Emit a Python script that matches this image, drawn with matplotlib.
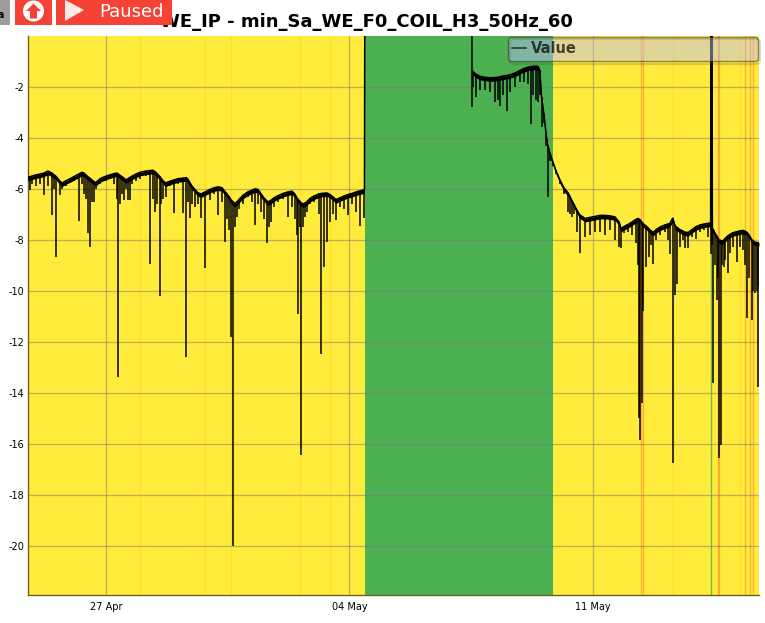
#!/usr/bin/python3
from datetime import datetime

import matplotlib
matplotlib.use('Agg')
import matplotlib.dates as mdates
import matplotlib.pyplot as plt
from matplotlib.patches import Circle, FancyBboxPatch, Polygon, Rectangle

TITLE = 'WE_IP - min_Sa_WE_F0_COIL_H3_50Hz_60'
START = datetime(2018, 4, 27)  # year is not shown on the chart

y_ticks = [-2, -4, -6, -8, -10, -12, -14, -16, -18, -20]
x_ticks = [datetime(2018, 4, 27), datetime(2018, 5, 4), datetime(2018, 5, 11)]

# all times are days after 27 Apr
# first stretch, up to where the signal leaves the top of the chart
days_a = [-2.24, -2.18, -2.13, -2.01, -1.90, -1.78, -1.67, -1.55, -1.49, -1.44,
          -1.32, -1.26, -1.15, -1.03, -0.92, -0.78, -0.69, -0.63, -0.57, -0.52,
          -0.46, -0.40, -0.34, -0.29, -0.17, 0.00, 0.11, 0.23, 0.32, 0.36,
          0.40, 0.46, 0.52, 0.57, 0.63, 0.69, 0.75, 0.86, 0.98, 1.15,
          1.28, 1.35, 1.41, 1.47, 1.54, 1.58, 1.64, 1.72, 1.84, 1.95,
          2.07, 2.21, 2.31, 2.36, 2.41, 2.47, 2.56, 2.64, 2.73, 2.85,
          2.99, 3.10, 3.22, 3.33, 3.42, 3.48, 3.54, 3.59, 3.65, 3.71,
          3.77, 3.82, 3.94, 4.08, 4.20, 4.28, 4.37, 4.46, 4.54, 4.63,
          4.69, 4.74, 4.83, 4.94, 5.09, 5.23, 5.35, 5.43, 5.49, 5.53,
          5.58, 5.62, 5.66, 5.72, 5.78, 5.86, 5.98, 6.12, 6.18, 6.27,
          6.35, 6.44, 6.53, 6.61, 6.73, 6.84, 6.96, 7.07, 7.19, 7.30,
          7.43]
tops_a = [-5.54, -5.52, -5.50, -5.45, -5.42, -5.38, -5.30, -5.38, -5.45, -5.50,
          -5.70, -5.77, -5.68, -5.60, -5.52, -5.42, -5.35, -5.38, -5.46, -5.52,
          -5.58, -5.65, -5.72, -5.75, -5.60, -5.50, -5.45, -5.40, -5.38, -5.42,
          -5.46, -5.52, -5.58, -5.64, -5.60, -5.55, -5.50, -5.42, -5.35, -5.30,
          -5.28, -5.27, -5.32, -5.40, -5.50, -5.58, -5.68, -5.77, -5.70, -5.65,
          -5.60, -5.58, -5.56, -5.62, -5.75, -5.88, -6.02, -6.15, -6.20, -6.12,
          -6.02, -5.96, -5.92, -5.95, -6.10, -6.20, -6.30, -6.42, -6.50, -6.58,
          -6.50, -6.42, -6.25, -6.12, -6.05, -6.00, -6.02, -6.20, -6.35, -6.48,
          -6.50, -6.45, -6.35, -6.27, -6.18, -6.12, -6.09, -6.20, -6.35, -6.42,
          -6.50, -6.55, -6.60, -6.55, -6.50, -6.38, -6.28, -6.20, -6.18, -6.17,
          -6.16, -6.22, -6.32, -6.42, -6.35, -6.28, -6.22, -6.18, -6.12, -6.08,
          -6.03]
lows_a = [-5.70, -6.06, -5.80, -5.90, -5.80, -6.26, -5.90, -7.04, -6.00, -8.69,
          -6.26, -6.00, -5.90, -5.75, -5.70, -7.27, -5.80, -6.20, -6.40, -7.75,
          -8.29, -6.50, -6.53, -6.00, -5.80, -5.70, -5.60, -5.80, -6.40, -13.40,
          -6.60, -6.20, -6.45, -6.00, -6.45, -6.45, -5.80, -5.70, -5.60, -5.50,
          -8.96, -6.40, -6.92, -6.60, -10.20, -6.60, -6.40, -6.33, -5.90, -6.96,
          -5.80, -6.96, -12.60, -6.50, -7.16, -6.60, -6.70, -6.60, -7.16, -9.12,
          -6.45, -6.20, -7.04, -6.50, -8.09, -7.20, -7.63, -11.80, -20.00, -7.50,
          -7.10, -6.80, -6.60, -6.30, -6.50, -7.43, -6.60, -6.90, -7.20, -8.12,
          -7.50, -7.30, -6.70, -6.50, -6.40, -7.10, -6.70, -7.20, -7.82, -10.90,
          -7.50, -16.45, -7.50, -7.10, -6.90, -6.60, -6.50, -7.00, -12.50, -9.07,
          -8.10, -7.30, -7.00, -7.23, -6.70, -6.80, -7.04, -6.60, -6.90, -7.47,
          -7.16]

# off the top of the chart in between
gap_days = [7.44, 10.52]
gap_values = [1.0, 1.0]

# second stretch, from the return to the end
days_b = [10.52, 10.55, 10.64, 10.75, 10.89, 11.04, 11.18, 11.27, 11.33, 11.41,
          11.53, 11.61, 11.76, 11.90, 12.01, 12.13, 12.23, 12.27, 12.36, 12.42,
          12.47, 12.52, 12.59, 12.65, 12.70, 12.76, 12.85, 12.93, 13.05, 13.16,
          13.28, 13.34, 13.39, 13.45, 13.54, 13.62, 13.77, 13.91, 14.06, 14.20,
          14.34, 14.49, 14.63, 14.75, 14.80, 14.89, 15.00, 15.12, 15.23, 15.29,
          15.32, 15.36, 15.40, 15.45, 15.52, 15.62, 15.67, 15.73, 15.81, 15.92,
          16.06, 16.15, 16.21, 16.29, 16.36, 16.42, 16.50, 16.59, 16.64, 16.74,
          16.84, 16.96, 17.07, 17.19, 17.30, 17.38, 17.39, 17.42, 17.43, 17.46,
          17.51, 17.56, 17.60, 17.62, 17.67, 17.71, 17.75, 17.79, 17.87, 17.94,
          18.02, 18.13, 18.22, 18.31, 18.37, 18.42, 18.48, 18.57, 18.61, 18.66,
          18.70, 18.73, 18.77]
tops_b = [-1.33, -1.40, -1.50, -1.58, -1.62, -1.64, -1.63, -1.62, -1.60, -1.57,
          -1.55, -1.52, -1.45, -1.35, -1.28, -1.22, -1.20, -1.19, -1.18, -1.20,
          -1.35, -2.40, -3.10, -3.85, -4.30, -4.60, -4.95, -5.27, -5.65, -5.95,
          -6.15, -6.30, -6.45, -6.60, -6.84, -7.02, -7.16, -7.12, -7.08, -7.04,
          -7.04, -7.06, -7.10, -7.30, -7.55, -7.48, -7.40, -7.30, -7.20, -7.16,
          -7.18, -7.22, -7.30, -7.38, -7.45, -7.58, -7.65, -7.71, -7.60, -7.50,
          -7.42, -7.38, -7.35, -7.15, -7.45, -7.52, -7.60, -7.66, -7.70, -7.71,
          -7.60, -7.48, -7.42, -7.38, -7.35, -7.35, 1.00, 1.00, -7.55, -7.60,
          -7.75, -7.85, -7.95, -8.00, -8.02, -8.05, -8.02, -7.95, -7.85, -7.78,
          -7.72, -7.68, -7.65, -7.63, -7.66, -7.70, -7.80, -8.00, -8.05, -8.10,
          -8.10, -8.12, -8.10]
lows_b = [-2.80, -2.00, -2.40, -2.10, -2.10, -2.20, -2.60, -2.50, -2.75, -2.30,
          -2.95, -2.20, -2.00, -1.80, -1.80, -1.90, -3.47, -2.30, -2.50, -2.60,
          -2.30, -3.58, -3.40, -4.30, -6.33, -4.90, -5.10, -5.40, -5.80, -6.20,
          -6.90, -7.00, -7.10, -7.00, -7.70, -8.50, -7.90, -7.80, -7.70, -7.70,
          -7.80, -7.60, -8.00, -8.30, -8.33, -7.75, -7.70, -7.80, -8.12, -9.00,
          -15.00, -15.86, -14.40, -10.80, -9.05, -8.67, -8.20, -8.96, -8.00, -7.80,
          -7.70, -8.00, -8.54, -16.77, -10.18, -9.72, -8.30, -8.00, -8.33, -8.33,
          -7.90, -7.95, -7.70, -7.60, -7.90, -7.60, -8.54, -8.20, -8.00, -13.60,
          -9.00, -10.37, -9.50, -16.57, -16.06, -9.00, -9.08, -8.80, -9.30, -8.50,
          -8.30, -8.88, -8.30, -8.40, -9.00, -11.08, -9.50, -11.16, -10.00, -10.10,
          -10.00, -13.78, -9.80]

# state colouring behind the signal
green_start, green_end = 7.44, 12.85
pale_marks = [0.98, 2.85, 3.59, 5.58, 6.44, 16.29, 18.22]
orange_marks = [15.38, 15.45, 17.59, 17.62, 18.37, 18.50, 18.61]
green_marks = [17.39]

YELLOW = '#ffeb3b'
GREEN = '#4caf50'
RED = '#f44336'
BODY_DEPTH = 0.14  # how far the solid part of the trace reaches below its top


def main():
    plt.rcParams['axes.unicode_minus'] = False
    fig = plt.figure(figsize=(7.65, 6.23), dpi=100)
    ax = fig.add_axes([28 / 765, 1 - 595 / 623, 731 / 765, 559 / 623])
    base = mdates.date2num(START)

    ax.set_facecolor(YELLOW)
    ax.axvspan(base + green_start, base + green_end, color=GREEN, lw=0, zorder=0)
    for d in pale_marks:
        ax.axvline(base + d, color='#ffc107', lw=1, alpha=0.3, zorder=0.5)
    for d in orange_marks:
        ax.axvline(base + d, color='#ff5722', lw=1, alpha=0.4, zorder=0.5)
    for d in green_marks:
        ax.axvline(base + d, color='#4caf50', lw=1, alpha=0.8, zorder=0.5)

    # trace: top of the band, the spikes hanging off it, the solid part between
    days = days_a + gap_days + days_b
    tops = tops_a + gap_values + tops_b
    lows = lows_a + gap_values + lows_b
    xs = [base + d for d in days]
    ax.plot(xs, tops, color='black', lw=1.1, label='Value', zorder=3)
    ax.vlines(xs, lows, tops, color='black', lw=1.1, zorder=3)
    body = [max(low, top - BODY_DEPTH) for low, top in zip(lows, tops)]
    ax.fill_between(xs, body, tops, color='black', lw=0, zorder=3)

    ax.set_xlim(base - 2.24, base + 18.77)
    ax.set_ylim(-21.94, 0)
    ax.set_yticks(y_ticks)
    ax.set_xticks([mdates.date2num(t) for t in x_ticks])
    ax.xaxis.set_major_formatter(mdates.DateFormatter('%d %b'))
    ax.tick_params(axis='y', length=0, labelsize=7, pad=2.5)
    ax.tick_params(axis='x', length=0, labelsize=7, pad=5)
    ax.grid(True, color='#777777', lw=0.9, alpha=0.5)
    for line in ax.get_xgridlines() + ax.get_ygridlines():
        line.set_zorder(1)
    for side in ('top', 'right'):
        ax.spines[side].set_visible(False)
    for side in ('left', 'bottom'):
        ax.spines[side].set_color('#6b6420')
        ax.spines[side].set_linewidth(1)

    fig.text(366 / 765, 1 - 22 / 623, TITLE, ha='center', va='center',
             fontsize=13, fontweight='bold')

    # legend stretched over the right hand part of the top edge
    leg = ax.legend(loc='upper left', bbox_to_anchor=(480 / 731, 0, 250 / 731, 0.998),
                    mode='expand', fancybox=True, framealpha=0.47,
                    facecolor='#bebeff', edgecolor='#222200',
                    borderaxespad=0, handlelength=0.96, handletextpad=0.34,
                    borderpad=0.3, prop={'weight': 'bold', 'size': 10.5})
    leg.set_zorder(5)
    leg.get_texts()[0].set_alpha(0.7)
    leg.get_lines()[0].set_alpha(0.75)

    # toolbar buttons sitting on top of the title
    bar = fig.add_axes([0, 0, 1, 1], zorder=10)
    bar.set_xlim(0, 765)
    bar.set_ylim(623, 0)
    bar.axis('off')
    # soft edge of the legend's shadow
    bar.add_patch(FancyBboxPatch((514, 43), 242, 17, boxstyle='round,pad=4',
                                 fc='none', ec='#444444', lw=1.5, alpha=0.2))
    bar.add_patch(Rectangle((0, 0), 10, 25, color='#9e9e9e', lw=0))
    bar.text(-4, 15, 'a', fontsize=8, fontweight='bold', va='center')
    bar.add_patch(Rectangle((15, 0), 37, 25, color=RED, lw=0))
    bar.add_patch(Circle((33.5, 11), 10.5, color='white', lw=0))
    bar.add_patch(Polygon([(33.5, 3.5), (41, 11), (37, 11), (37, 18.5), (30, 18.5),
                           (30, 11), (26, 11)], color=RED, lw=0))
    bar.add_patch(Rectangle((56, 0), 116, 25, color=RED, lw=0))
    bar.add_patch(Polygon([(65, 0), (84, 10), (65, 21)], color='#ffebe9', lw=0))
    bar.text(99, 12, 'Paused', color='white', fontsize=13, va='center')

    fig.savefig('out.png', dpi=100)


if __name__ == '__main__':
    main()
